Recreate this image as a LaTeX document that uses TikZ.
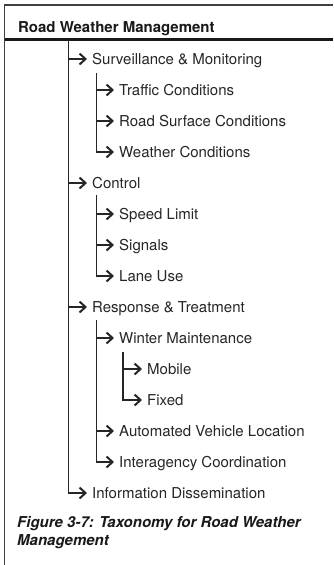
\documentclass[tikz,border=0pt]{standalone}
\usepackage{fontspec}
\setmainfont{TeX Gyre Heros}
\usetikzlibrary{arrows.meta}
\begin{document}
\begin{tikzpicture}[x=1pt,y=-1pt,
  item/.style={anchor=west, inner sep=0pt, text height=10.5pt, text depth=0pt,
    font=\fontsize{15}{18}\selectfont, text=black!85},
  tree/.style={line width=1.7pt, draw=black!85},
  arr/.style={tree, -{Straight Barb[length=6pt,width=11pt,line width=2pt]}, shorten >=5pt},
  frame/.style={line width=1.6pt, draw=black!75},
  rule/.style={line width=3pt, draw=black!90},
  captxt/.style={anchor=base west, inner sep=0pt,
    font=\fontsize{15}{18}\selectfont\bfseries\itshape, text=black!90},
]
\useasboundingbox (0,0) rectangle (333,565);
\fill[white] (0,0) rectangle (333,565);
% frame
\coordinate (tl) at (4.5,5);
\coordinate (bl) at (4.5,565);
\coordinate (tr) at (333,5);
\coordinate (rl) at (4.5,39.5);
\coordinate (rr) at (333,39.5);
\draw[frame] (bl) -- (tl) -- (tr);
\draw[rule] (rl) -- (rr);
\node[anchor=base west, inner sep=0pt, font=\fontsize{15}{18}\selectfont\bfseries, text=black!90] (title) at (18,32) {Road Weather Management};

% level 1
\node[item] (surv) at (92,59) {Surveillance \& Monitoring};
\node[item] (ctrl) at (92,183) {Control};
\node[item] (resp) at (92,307) {Response \& Treatment};
\node[item] (info) at (92,493) {Information Dissemination};
% level 2
\node[item] (traffic) at (119,90) {Traffic Conditions};
\node[item] (road) at (119,121) {Road Surface Conditions};
\node[item] (weather) at (119,152) {Weather Conditions};
\node[item] (speed) at (119,214) {Speed Limit};
\node[item] (signals) at (119,245) {Signals};
\node[item] (lane) at (119,276) {Lane Use};
\node[item] (winter) at (119,338) {Winter Maintenance};
\node[item] (avl) at (119,431) {Automated Vehicle Location};
\node[item] (inter) at (119,462) {Interagency Coordination};
% level 3
\node[item] (mobile) at (147,369) {Mobile};
\node[item] (fixed) at (147,400) {Fixed};

% trunks
\coordinate (v1) at (68.5,39.5);
\coordinate (v2a) at (96.5,73);
\coordinate (v2b) at (96.5,195);
\coordinate (v2c) at (96.5,320);
\coordinate (v3a) at (123,352);

\draw[arr] (v1) -- (v1 |- info.west) -- (info.west);
\foreach \n in {surv,ctrl,resp} \draw[arr] (v1 |- \n.west) -- (\n.west);

\draw[arr] (v2a) -- (v2a |- weather.west) -- (weather.west);
\foreach \n in {traffic,road} \draw[arr] (v2a |- \n.west) -- (\n.west);

\draw[arr] (v2b) -- (v2b |- lane.west) -- (lane.west);
\foreach \n in {speed,signals} \draw[arr] (v2b |- \n.west) -- (\n.west);

\draw[arr] (v2c) -- (v2c |- inter.west) -- (inter.west);
\foreach \n in {winter,avl} \draw[arr] (v2c |- \n.west) -- (\n.west);

\draw[arr] (v3a) -- (v3a |- fixed.west) -- (fixed.west);
\draw[arr] (v3a |- mobile.west) -- (mobile.west);

% caption
\node[captxt] (cap1) at (17,527) {Figure 3-7: Taxonomy for Road Weather};
\node[captxt] (cap2) at (17,545) {Management};
\end{tikzpicture}
\end{document}
